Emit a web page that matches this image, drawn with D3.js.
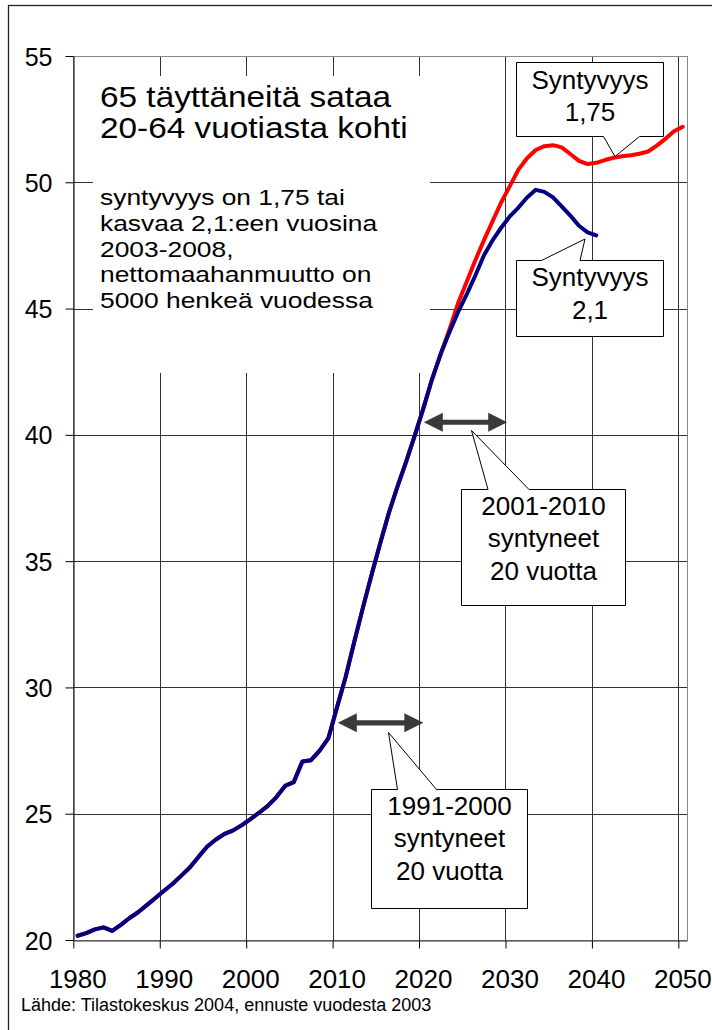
<!DOCTYPE html>
<html><head><meta charset="utf-8">
<script src="https://cdn.jsdelivr.net/npm/d3@7"></script>
<style>
body{margin:0;background:#fff}
svg{display:block}
text{font-family:"Liberation Sans",Arial,Helvetica,sans-serif;fill:#000}
</style>
</head><body>
<svg id="chart" width="712" height="1030"></svg>
<script>
// ---------------- data ----------------
const years = [1980,1981,1982,1983,1984,1985,1986,1987,1988,1989,
  1990,1991,1992,1993,1994,1995,1996,1997,1998,1999,
  2000,2001,2002,2003,2004,2005,2006,2007,2008,2009,
  2010,2011,2012,2013,2014,2015,2016,2017,2018,2019,
  2020,2021,2022,2023,2024,2025,2026,2027,2028,2029,
  2030,2031,2032,2033,2034,2035,2036,2037,2038,2039,
  2040,2041,2042,2043,2044,2045,2046,2047,2048,2049,2050];

// Syntyvyys 1,75 (red)
const fert175 = [20.17,20.27,20.42,20.50,20.36,20.60,20.87,21.10,21.38,21.66,
  21.95,22.23,22.55,22.88,23.30,23.70,23.98,24.20,24.34,24.55,
  24.79,25.04,25.31,25.66,26.10,26.25,27.07,27.12,27.50,27.98,
  29.20,30.40,31.80,33.15,34.45,35.70,36.90,37.95,38.93,39.97,
  41.05,42.20,43.20,44.15,45.20,46.05,46.90,47.70,48.45,49.20,
  49.85,50.50,50.95,51.28,51.43,51.47,51.38,51.12,50.85,50.72,
  50.77,50.88,50.97,51.03,51.07,51.13,51.22,51.45,51.72,52.02,52.20];

// Syntyvyys 2,1 (blue), 1980-2040
const fert21 = [20.17,20.27,20.42,20.50,20.36,20.60,20.87,21.10,21.38,21.66,
  21.95,22.23,22.55,22.88,23.30,23.70,23.98,24.20,24.34,24.55,
  24.79,25.04,25.31,25.66,26.10,26.25,27.07,27.12,27.50,27.98,
  29.20,30.40,31.80,33.15,34.45,35.70,36.90,37.95,38.93,39.97,
  41.05,42.20,43.20,44.05,44.85,45.55,46.30,47.10,47.70,48.20,
  48.65,49.00,49.40,49.70,49.62,49.40,49.05,48.68,48.28,48.02,47.90];

const xTicks = [1980,1990,2000,2010,2020,2030,2040,2050];
const yTicks = [20,25,30,35,40,45,50,55];

const titleLines = ["65 täyttäneitä sataa","20-64 vuotiasta kohti"];
const noteLines = ["syntyvyys on 1,75 tai","kasvaa 2,1:een vuosina","2003-2008,",
  "nettomaahanmuutto on","5000 henkeä vuodessa"];
const sourceText = "Lähde: Tilastokeskus 2004, ennuste vuodesta 2003";

// 20-year arrows (year range, value level)
const arrowFrom = [2010.6, 2020.55];
const arrowTo = [2020.5, 2030.2];
const arrowLevel = [28.6, 40.5];

const calloutTexts = [["Syntyvyys","1,75"],["Syntyvyys","2,1"],
  ["2001-2010","syntyneet","20 vuotta"],["1991-2000","syntyneet","20 vuotta"]];

// ---------------- layout ----------------
const svg = d3.select("#chart");
const L = 73.3, R = 687, T = 56, B = 940;
const x = d3.scaleLinear().domain([1980, 2051]).range([L, R]);
const y = d3.scaleLinear().domain([20, 55]).range([B, T]);
const px = v => Math.round(v) + 0.5;

svg.append("rect").attr("width",712).attr("height",1030).attr("fill","#fff");
// outer frame
svg.append("rect").attr("x",8.5).attr("y",5.5).attr("width",740).attr("height",1060)
  .attr("fill","none").attr("stroke","#222").attr("stroke-width",1.3);

const g = svg.append("g");
// horizontal gridlines
g.selectAll("line.hg").data(yTicks.filter(v => v > 20)).join("line")
  .attr("x1", L).attr("x2", R).attr("y1", d => px(y(d))).attr("y2", d => px(y(d)))
  .attr("stroke","#333").attr("stroke-width",1);
// vertical gridlines
g.selectAll("line.vg").data(xTicks.filter(v => v > 1980)).join("line")
  .attr("x1", d => px(x(d))).attr("x2", d => px(x(d))).attr("y1", T).attr("y2", B)
  .attr("stroke","#333").attr("stroke-width",1);
// plot border
g.append("rect").attr("x", px(L)).attr("y", px(T)).attr("width", Math.round(R - L))
  .attr("height", Math.round(B - T)).attr("fill","none").attr("stroke","#888");

// y axis
const yAxis = g.append("g").attr("transform", `translate(${px(L)},0)`)
  .call(d3.axisLeft(y).tickValues(yTicks).tickSize(8).tickSizeOuter(0).tickPadding(13));
yAxis.select(".domain").attr("stroke","#000");
yAxis.selectAll(".tick line").attr("stroke","#000");
yAxis.selectAll(".tick text").attr("font-size",25).attr("font-family",null).attr("dy","0.36em")
  .attr("x",-21);
// x axis
const xAxis = g.append("g").attr("transform", `translate(0,${px(B)})`)
  .call(d3.axisBottom(x).tickValues(xTicks).tickFormat(d3.format("d")).tickSize(8).tickSizeOuter(0));
xAxis.select(".domain").attr("stroke","#333");
xAxis.selectAll(".tick line").attr("stroke","#000");
xAxis.selectAll(".tick text").attr("font-size",26).attr("font-family",null)
  .attr("y", 47).attr("dy", 0).attr("x", 4);

// white text box
svg.append("rect").attr("x",93).attr("y",76).attr("width",337).attr("height",297).attr("fill","#fff");
const tb = svg.append("g");
titleLines.forEach((t,i) => {
  tb.append("text").attr("transform",`translate(100,${107 + i*31}) scale(1.15,1)`)
    .attr("font-size",29).text(t);
});
noteLines.forEach((t,i) => {
  tb.append("text").attr("transform",`translate(100,${205 + i*25.8}) scale(1.2,1)`)
    .attr("font-size",22).text(t);
});

// lines
const line = d3.line().x((d,i) => x(years[i] + 0.5)).y(d => y(d));
svg.append("path").datum(fert175).attr("d", line).attr("fill","none")
  .attr("stroke","#ff0000").attr("stroke-width",4).attr("stroke-linejoin","round").attr("stroke-linecap","round");
svg.append("path").datum(fert21).attr("d", line).attr("fill","none")
  .attr("stroke","#000080").attr("stroke-width",4).attr("stroke-linejoin","round").attr("stroke-linecap","round");

// double arrows
arrowFrom.forEach((a,i) => {
  const x0 = x(a), x1 = x(arrowTo[i]), cy = y(arrowLevel[i]);
  const hl = 19, hh = 9.5, sh = 2.6;
  const pts = [[x0,cy],[x0+hl,cy-hh],[x0+hl,cy-sh],[x1-hl,cy-sh],[x1-hl,cy-hh],[x1,cy],
    [x1-hl,cy+hh],[x1-hl,cy+sh],[x0+hl,cy+sh],[x0+hl,cy+hh]];
  svg.append("path").attr("d", "M" + pts.map(p => p.join(",")).join("L") + "Z")
    .attr("fill","#3a3a3a");
});

// callouts
function callout(x0,y0,x1,y1,side,bL,bR,tx,ty,lines,baselines){
  let d;
  if (side === "top") d = `M${x0},${y0}L${bL},${y0}L${tx},${ty}L${bR},${y0}L${x1},${y0}L${x1},${y1}L${x0},${y1}Z`;
  else d = `M${x0},${y0}L${x1},${y0}L${x1},${y1}L${bR},${y1}L${tx},${ty}L${bL},${y1}L${x0},${y1}Z`;
  svg.append("path").attr("d", d).attr("fill","#fff").attr("stroke","#000").attr("stroke-width",1);
  lines.forEach((t,i) => svg.append("text").attr("x",(x0+x1)/2).attr("y",baselines[i])
    .attr("text-anchor","middle").attr("font-size",26).text(t));
}
callout(516.5,62.5,663.5,136.5,"bottom",603.5,639.5,615,156.5,calloutTexts[0],[88.5,121]);
callout(516.5,260.5,663.5,336.5,"top",541.5,580,585,239,calloutTexts[1],[286,318.5]);
callout(461.5,489.5,625.5,605.5,"top",488,529,471.5,430.5,calloutTexts[2],[515,547,580]);
callout(371.5,789.5,527.5,908.5,"top",397.5,436.5,388.5,732.5,calloutTexts[3],[815,847,879.5]);

// source
svg.append("text").attr("x",21).attr("y",1011).attr("font-size",18).text(sourceText);
</script>
</body></html>
